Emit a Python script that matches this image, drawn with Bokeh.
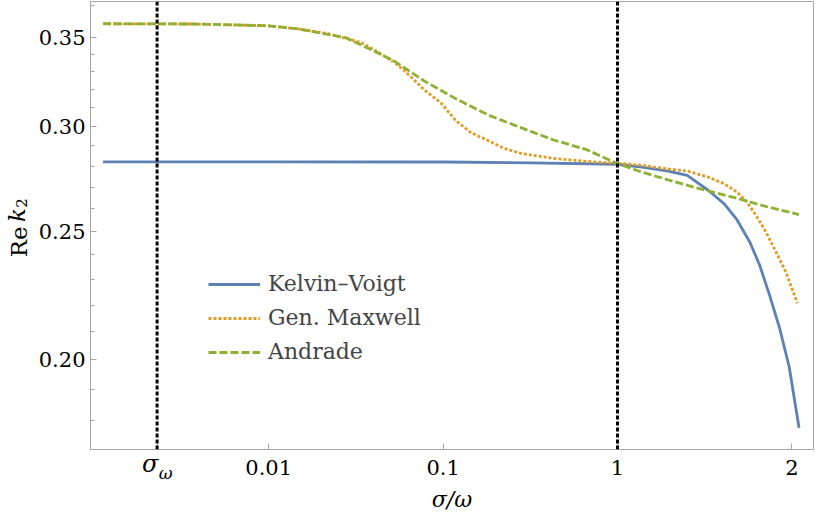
import math
from bokeh.plotting import figure
from bokeh.models import (Range1d, FixedTicker, Span, Legend, LegendItem, LinearAxis)
from bokeh.embed import file_html
from bokeh.resources import INLINE

# ---- data (x = position on the sigma/omega axis in tick units: 0.01->-2, 0.1->-1, 1->0, 2->1) ----
x_ticks = [-2.64, -2.0, -1.0, 0.0, 1.0]
x_tick_labels = ["", "0.01", "0.1", "1", "2"]
x_sigma_omega = -2.64
x_one = 0.0

y_major = [0.20, 0.25, 0.30, 0.35]
y_minor = [0.18, 0.19, 0.21, 0.22, 0.23, 0.24, 0.26, 0.27, 0.28, 0.29,
           0.31, 0.32, 0.33, 0.34, 0.37]

kv_x = [-2.95, -2.0, -1.0, -0.5, 0.0, 0.14, 0.29, 0.40, 0.52, 0.61, 0.685, 0.76, 0.816,
        0.872, 0.929, 0.985, 1.041]
kv_y = [0.2821, 0.2821, 0.2820, 0.2816, 0.2809, 0.2795, 0.2776, 0.2755, 0.2685, 0.2624,
        0.2551, 0.2452, 0.2356, 0.2238, 0.2115, 0.1975, 0.1778]

gm_x = [-2.95, -2.4, -2.0, -1.84, -1.66, -1.47, -1.38, -1.28, -1.19, -1.11, -1.01, -0.93,
        -0.84, -0.74, -0.65, -0.55, -0.37, -0.18, 0.0, 0.14, 0.29, 0.40, 0.52, 0.61, 0.685,
        0.742, 0.798, 0.854, 0.910, 0.966, 1.032]
gm_y = [0.3585, 0.3583, 0.3572, 0.3554, 0.3524, 0.3470, 0.3417, 0.3354, 0.3275, 0.3198,
        0.3122, 0.3033, 0.2967, 0.2926, 0.2887, 0.2862, 0.2838, 0.2823, 0.2814, 0.2804,
        0.2786, 0.2776, 0.2747, 0.2716, 0.2677, 0.2632, 0.2566, 0.2494, 0.2411, 0.2329,
        0.2207]

an_x = [-2.95, -2.4, -2.0, -1.84, -1.56, -1.38, -1.28, -1.11, -0.93, -0.74, -0.55, -0.37,
        -0.18, 0.0, 0.14, 0.29, 0.48, 0.667, 0.854, 1.041]
an_y = [0.3585, 0.3583, 0.3572, 0.3554, 0.3500, 0.3411, 0.3360, 0.3247, 0.3149, 0.3059,
        0.2992, 0.2931, 0.2882, 0.2812, 0.2771, 0.2734, 0.2690, 0.2652, 0.2610, 0.2574]

series_names = ["Kelvin\u2013Voigt", "Gen. Maxwell", "Andrade"]
colors = ["#5E81B5", "#E19C24", "#8FB032"]

# pieces of the y-axis title "Re k2" (text, style, size, centre along y, standoff)
ylabel_parts = [("2", "normal", "15px", 0.2626, 8),
                ("Re", "normal", "23px", 0.2455, -19),
                ("k", "italic", "23px", 0.2572, -27)]
# pieces of the sigma_omega tick label (text, style, size, centre along x, standoff)
sigma_parts = [("\u03c3", "italic", "24px", x_sigma_omega - 0.04, -28),
               ("\u03c9", "italic", "17px", x_sigma_omega + 0.049, -18)]

FONT = "DejaVu Serif"
GREY = "#a6a6a6"

y_lo, y_hi = 0.1712, 0.3726
x_lo, x_hi = -3.022, 1.124

p = figure(width=814, height=516, y_axis_type="log",
           x_range=Range1d(x_lo, x_hi), y_range=Range1d(y_lo, y_hi),
           output_backend="svg", toolbar_location=None,
           min_border_left=90, min_border_right=1, min_border_top=1, min_border_bottom=67)
p.grid.visible = False
p.outline_line_color = GREY
p.outline_line_width = 1
p.background_fill_color = "white"
p.border_fill_color = "white"

# main axes
xa = p.xaxis[0]
xa.ticker = FixedTicker(ticks=x_ticks, minor_ticks=[])
xa.major_label_overrides = {t: l for t, l in zip(x_ticks, x_tick_labels)}
ya = p.yaxis[0]
ya.ticker = FixedTicker(ticks=y_major, minor_ticks=y_minor)
ya.major_label_overrides = {t: f"{t:.2f}" for t in y_major}
for ax in (xa, ya):
    ax.axis_line_color = GREY
    ax.major_tick_line_color = GREY
    ax.minor_tick_line_color = GREY
    ax.major_tick_in = 6
    ax.major_tick_out = 0
    ax.minor_tick_in = 4
    ax.minor_tick_out = 0
    ax.major_label_text_font = FONT
    ax.major_label_text_font_size = "21px"
    ax.major_label_text_color = "black"
xa.major_label_standoff = 10
ya.major_label_standoff = 5


def label_axis(pos, text, style, size, standoff, vertical):
    ax = LinearAxis(ticker=FixedTicker(ticks=[pos], minor_ticks=[]),
                    major_label_overrides={pos: text},
                    axis_line_alpha=0, major_tick_line_alpha=0, minor_tick_line_alpha=0,
                    major_tick_in=0, major_tick_out=0, minor_tick_in=0, minor_tick_out=0,
                    major_label_standoff=standoff, major_label_text_font=FONT,
                    major_label_text_font_style=style, major_label_text_font_size=size,
                    major_label_text_color="black")
    if vertical:
        ax.major_label_orientation = "vertical"
    return ax


for text, style, size, pos, so in ylabel_parts:
    p.add_layout(label_axis(pos, text, style, size, so, True), "left")
sig_axes = []
for text, style, size, pos, so in sigma_parts:
    a = label_axis(pos, text, style, size, so, False)
    p.add_layout(a, "below")
    sig_axes.append(a)
# x-axis title carried by the outermost axis
sig_axes[-1].axis_label = "\u03c3/\u03c9"
sig_axes[-1].axis_label_text_font = FONT
sig_axes[-1].axis_label_text_font_style = "italic"
sig_axes[-1].axis_label_text_font_size = "22px"
sig_axes[-1].axis_label_text_color = "black"
sig_axes[-1].axis_label_standoff = 1

# vertical reference lines
for xv in (x_sigma_omega, x_one):
    p.add_layout(Span(location=xv, dimension="height", line_color="black",
                      line_width=3, line_dash="4 2"))

r_kv = p.line(kv_x, kv_y, line_color=colors[0], line_width=2.8)
r_gm = p.line(gm_x, gm_y, line_color=colors[1], line_width=2.8, line_dash="3 2")
r_an = p.line(an_x, an_y, line_color=colors[2], line_width=2.8, line_dash="8 3")

legend = Legend(items=[LegendItem(label=series_names[0], renderers=[r_kv]),
                       LegendItem(label=series_names[1], renderers=[r_gm]),
                       LegendItem(label=series_names[2], renderers=[r_an])],
                location=(108, 75), glyph_width=52, glyph_height=22, label_height=22,
                label_standoff=8, spacing=9, padding=10, margin=0,
                label_text_font=FONT, label_text_font_size="22px",
                border_line_alpha=0, background_fill_alpha=0)
p.add_layout(legend, "center")

open("out.html", "w").write(file_html(p, INLINE))
